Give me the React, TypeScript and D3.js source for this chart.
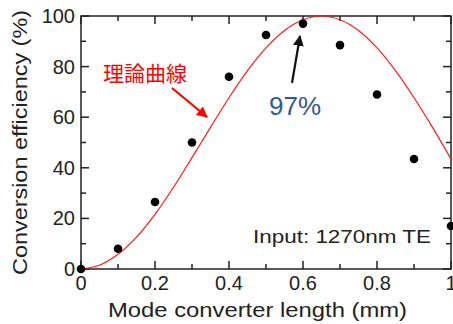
import React, { useRef, useEffect } from 'react'
import * as d3 from 'd3'

// measured points (mm, %)
const lengths = [0, 0.1, 0.2, 0.3, 0.4, 0.5, 0.6, 0.7, 0.8, 0.9, 1.0]
const efficiency = [0, 8, 26.5, 50, 76, 92.5, 97, 88.5, 69, 43.5, 17]

// theoretical curve
const theoryX = [0, 0.05, 0.1, 0.15, 0.2, 0.25, 0.3, 0.35, 0.4, 0.45, 0.5, 0.55, 0.6, 0.65, 0.7, 0.75, 0.8, 0.85, 0.9, 0.95, 1.0]
const theoryY = [0, 1.5, 5.8, 12.6, 21.6, 32.3, 44, 56, 67.7, 78.4, 87.4, 94.3, 98.5, 100, 98.5, 94.3, 87.4, 78.4, 67.7, 56, 43.5]

const xTicks = [0, 0.2, 0.4, 0.6, 0.8, 1]
const xTickLabels = ['0', '0.2', '0.4', '0.6', '0.8', '1']
const yTicks = [0, 20, 40, 60, 80, 100]

const font = '"Liberation Sans", Arial, sans-serif'

export default function App() {
  const ref = useRef<SVGSVGElement>(null)

  useEffect(() => {
    const svg = d3.select(ref.current)
    svg.selectAll('*').remove()

    const left = 81, right = 451, top = 16, bottom = 269
    const x = d3.scaleLinear().domain([0, 1]).range([left, right])
    const y = d3.scaleLinear().domain([0, 100]).range([bottom, top])

    const defs = svg.append('defs')
    const marker = (id: string, color: string) =>
      defs.append('marker')
        .attr('id', id)
        .attr('viewBox', '0 0 10 10')
        .attr('refX', 9).attr('refY', 5)
        .attr('markerWidth', 5).attr('markerHeight', 5)
        .attr('orient', 'auto')
        .append('path')
        .attr('d', 'M0,0 L10,5 L0,10 z')
        .attr('fill', color)
    marker('ahRed', '#ff0000')
    marker('ahBlack', '#111')

    // frame
    svg.append('rect')
      .attr('x', left).attr('y', top)
      .attr('width', right - left).attr('height', bottom - top)
      .attr('fill', 'none').attr('stroke', '#222').attr('stroke-width', 1.5)

    const g = svg.append('g').attr('stroke', '#222').attr('stroke-width', 1.5)
    const xMinor = d3.range(0, 1.001, 0.1)
    xMinor.forEach((v, i) => {
      const len = i % 2 === 0 ? 8 : 5
      g.append('line').attr('x1', x(v)).attr('x2', x(v)).attr('y1', bottom).attr('y2', bottom - len)
      g.append('line').attr('x1', x(v)).attr('x2', x(v)).attr('y1', top).attr('y2', top + len)
    })
    const yMinor = d3.range(0, 101, 10)
    yMinor.forEach((v, i) => {
      const len = i % 2 === 0 ? 8 : 5
      g.append('line').attr('x1', left).attr('x2', left + len).attr('y1', y(v)).attr('y2', y(v))
      g.append('line').attr('x1', right).attr('x2', right - len).attr('y1', y(v)).attr('y2', y(v))
    })

    // tick labels
    svg.append('g').selectAll('text').data(xTicks).enter().append('text')
      .attr('x', d => x(d)).attr('y', 290)
      .attr('text-anchor', 'middle')
      .attr('font-family', font).attr('font-size', 20).attr('fill', '#222')
      .text((d, i) => xTickLabels[i])
    svg.append('g').selectAll('text').data(yTicks).enter().append('text')
      .attr('x', 75).attr('y', d => y(d) + 7)
      .attr('text-anchor', 'end')
      .attr('font-family', font).attr('font-size', 20).attr('fill', '#222')
      .text(d => d)

    // axis titles
    svg.append('text')
      .attr('x', 108).attr('y', 317)
      .attr('textLength', 299).attr('lengthAdjust', 'spacingAndGlyphs')
      .attr('font-family', font).attr('font-size', 20).attr('fill', '#222')
      .text('Mode converter length (mm)')
    svg.append('text')
      .attr('transform', 'translate(27,275) rotate(-90)')
      .attr('textLength', 265).attr('lengthAdjust', 'spacingAndGlyphs')
      .attr('font-family', font).attr('font-size', 20).attr('fill', '#222')
      .text('Conversion efficiency (%)')

    // theory curve
    const line = d3.line<number>()
      .x((d, i) => x(theoryX[i]))
      .y(d => y(d))
      .curve(d3.curveCatmullRom)
    svg.append('path')
      .datum(theoryY)
      .attr('d', line)
      .attr('fill', 'none').attr('stroke', '#ff1a1a').attr('stroke-width', 1.2)

    // measured points
    svg.append('g').selectAll('circle').data(efficiency).enter().append('circle')
      .attr('cx', (d, i) => x(lengths[i])).attr('cy', d => y(d))
      .attr('r', 4.3).attr('fill', '#000')

    // annotations
    svg.append('text')
      .attr('x', 103).attr('y', 81)
      .attr('font-family', '"Noto Sans CJK JP", sans-serif').attr('font-size', 21).attr('fill', '#ff0000')
      .text('理論曲線')
    svg.append('line')
      .attr('x1', 172).attr('y1', 88).attr('x2', 207).attr('y2', 117)
      .attr('stroke', '#ff0000').attr('stroke-width', 2.2).attr('marker-end', 'url(#ahRed)')

    svg.append('line')
      .attr('x1', 292).attr('y1', 83).attr('x2', 300).attr('y2', 36)
      .attr('stroke', '#111').attr('stroke-width', 2.2).attr('marker-end', 'url(#ahBlack)')
    svg.append('text')
      .attr('x', 295).attr('y', 115)
      .attr('text-anchor', 'middle')
      .attr('font-family', font).attr('font-size', 26).attr('fill', '#2f5a94')
      .text('97%')

    svg.append('text')
      .attr('x', 253).attr('y', 243)
      .attr('textLength', 178).attr('lengthAdjust', 'spacingAndGlyphs')
      .attr('font-family', font).attr('font-size', 18).attr('fill', '#222')
      .text('Input: 1270nm TE')
  }, [])

  return (
    <svg
      ref={ref}
      width={453}
      height={324}
      style={{ position: 'absolute', left: 0, top: 0, background: '#fff' }}
    />
  )
}
